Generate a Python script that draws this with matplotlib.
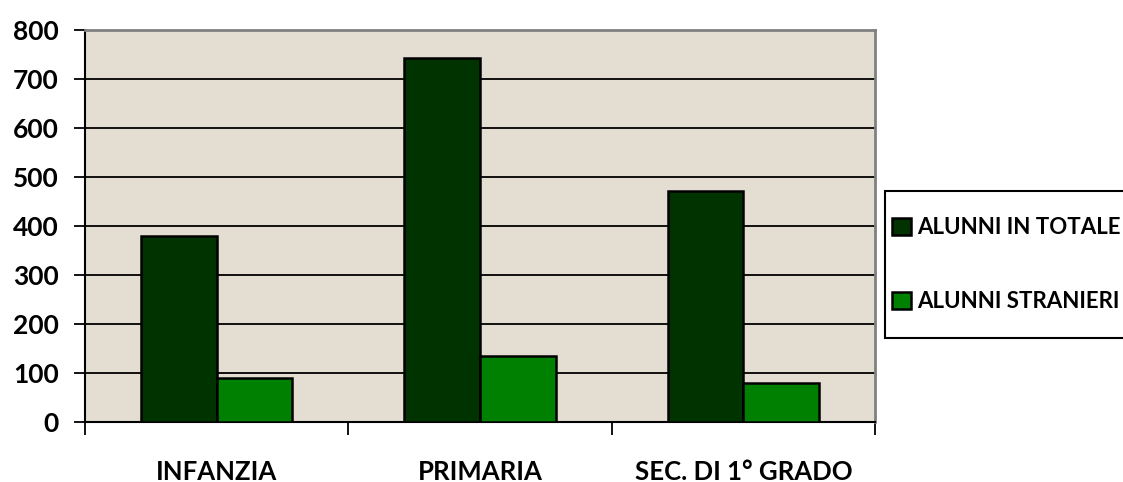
import numpy as np
import matplotlib.pyplot as plt
from matplotlib.patches import Rectangle

categories = ["INFANZIA", "PRIMARIA", "SEC. DI 1° GRADO"]
totale = [380, 742, 470]
stranieri = [90, 134, 79]
series_names = ["ALUNNI IN TOTALE", "ALUNNI STRANIERI"]

plt.rcParams['font.family'] = ['Lato', 'DejaVu Sans']
plt.rcParams['font.weight'] = 'bold'

W, H = 1123, 482
fig = plt.figure(figsize=(W / 100, H / 100), dpi=100)
ax = fig.add_axes([85 / W, 60 / H, 790 / W, 392.5 / H])
ax.set_facecolor('#E4DDD1')

x = np.arange(len(categories))
w = 0.287
ax.bar(x - w / 2, totale, w, color='#003300', edgecolor='black', linewidth=1.8,
       label=series_names[0], zorder=3)
ax.bar(x + w / 2, stranieri, w, color='#008000', edgecolor='black', linewidth=1.8,
       label=series_names[1], zorder=3)

ax.set_xlim(-0.5, 2.5)
ax.set_ylim(0, 800)
ax.set_yticks(range(0, 801, 100))
ax.yaxis.grid(True, color='black', linewidth=1.3, zorder=1)
ax.tick_params(axis='y', length=8, width=1.3, pad=11, labelsize=19)

ax.set_xticks([-0.5, 0.5, 1.5, 2.5])
ax.set_xticklabels([])
ax.set_xticks(x, minor=True)
ax.set_xticklabels(categories, minor=True)
ax.tick_params(axis='x', which='major', length=9, width=1.3)
ax.tick_params(axis='x', which='minor', length=0, pad=27, labelsize=18.5)

for s in ['top', 'right']:
    ax.spines[s].set_color('#808080')
    ax.spines[s].set_linewidth(2)
for s in ['left', 'bottom']:
    ax.spines[s].set_color('black')
    ax.spines[s].set_linewidth(1.5)

# legend box (runs off the right edge like the original)
fig.patches.append(Rectangle((885 / W, 1 - 338 / H), 260 / W, 147 / H,
                             transform=fig.transFigure, facecolor='white',
                             edgecolor='black', linewidth=1.5))
fig.legend(loc='upper left', bbox_to_anchor=(892 / W, 1 - 217 / H),
           frameon=False, fontsize=16, handlelength=0.85, handleheight=0.8,
           handletextpad=0.3, labelspacing=2.4, borderpad=0, borderaxespad=0)

fig.savefig('out.png', dpi=100)
